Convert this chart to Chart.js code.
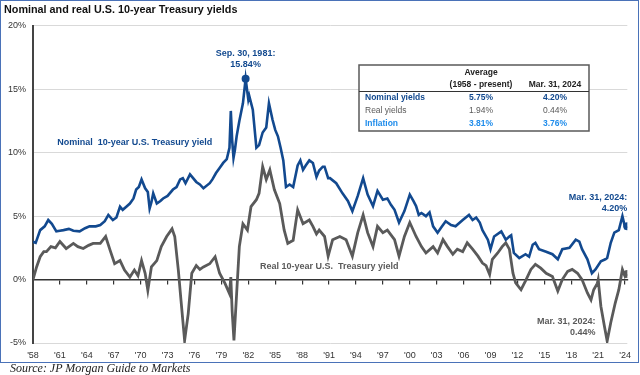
<!DOCTYPE html>
<html>
<head>
<meta charset="utf-8">
<script src="https://cdn.jsdelivr.net/npm/chart.js@4.4.1/dist/chart.umd.min.js"></script>
<style>
body { margin: 0; background: #fff; }
#frame { position: absolute; left: 0; top: 0; width: 637px; height: 361px; border: 1px solid #4a72b8; }
#source { position: absolute; left: 10px; top: 361px; font: italic 12px 'Liberation Serif', 'Times New Roman', serif; color: #222; }
</style>
</head>
<body>
<div id="frame"><canvas id="chartYields" width="637" height="361"></canvas></div>
<div id="source">Source: JP Morgan Guide to Markets</div>
<script>
// nominal 10-year yield (year, %)
var nominalYears = [1958.0, 1958.3, 1958.8, 1959.3, 1959.7, 1960.1, 1960.6, 1961.0, 1961.4, 1962.0, 1962.5, 1963.2, 1963.8, 1964.3, 1965.0, 1965.5, 1966.0, 1966.4, 1966.9, 1967.3, 1967.7, 1968.0, 1968.4, 1968.8, 1969.2, 1969.5, 1969.8, 1970.1, 1970.5, 1970.8, 1971.0, 1971.2, 1971.4, 1971.8, 1972.2, 1972.5, 1973.0, 1973.6, 1974.0, 1974.4, 1974.7, 1975.0, 1975.5, 1976.2, 1976.6, 1977.0, 1977.7, 1978.0, 1978.4, 1978.8, 1979.2, 1979.6, 1979.9, 1980.05, 1980.2, 1980.35, 1980.5, 1980.7, 1981.0, 1981.4, 1981.7, 1982.0, 1982.1, 1982.5, 1982.9, 1983.2, 1983.6, 1984.0, 1984.3, 1984.7, 1985.0, 1985.3, 1985.6, 1985.9, 1986.2, 1986.6, 1987.0, 1987.5, 1987.8, 1988.1, 1988.4, 1988.8, 1989.2, 1989.6, 1989.9, 1990.3, 1990.5, 1990.9, 1991.1, 1991.8, 1992.5, 1993.1, 1993.6, 1994.2, 1994.8, 1995.3, 1995.9, 1996.4, 1997.0, 1997.5, 1997.9, 1998.3, 1998.8, 1999.4, 2000.0, 2000.4, 2000.7, 2001.0, 2001.3, 2001.8, 2002.2, 2002.6, 2003.1, 2003.5, 2004.0, 2004.6, 2005.1, 2005.9, 2006.6, 2007.0, 2007.4, 2007.8, 2008.1, 2008.7, 2009.0, 2009.4, 2010.2, 2010.7, 2011.1, 2011.3, 2011.6, 2012.2, 2012.9, 2013.3, 2013.7, 2014.0, 2014.4, 2015.2, 2015.9, 2016.5, 2017.0, 2017.8, 2018.5, 2018.9, 2019.2, 2019.8, 2020.3, 2020.7, 2021.3, 2021.8, 2022.0, 2022.4, 2022.8, 2023.3, 2023.7, 2024.0, 2024.25];
var nominalValues = [2.98, 2.9, 3.9, 4.2, 4.7, 4.4, 3.8, 3.85, 3.9, 4.0, 3.85, 3.8, 4.05, 4.2, 4.2, 4.3, 4.6, 5.1, 4.7, 4.9, 5.75, 5.5, 5.75, 6.0, 6.4, 7.1, 7.3, 7.9, 7.2, 6.9, 5.6, 6.1, 6.8, 6.0, 6.2, 6.4, 6.6, 7.1, 7.3, 7.9, 8.0, 7.6, 8.3, 7.7, 7.5, 7.2, 7.6, 7.9, 8.4, 8.8, 9.2, 9.5, 10.4, 13.3, 11.0, 9.6, 10.2, 11.3, 12.5, 13.9, 15.84, 14.2, 14.5, 13.4, 10.4, 10.6, 11.6, 12.0, 13.9, 12.6, 11.8, 11.3, 10.4, 9.4, 7.3, 7.5, 7.3, 9.0, 9.4, 8.65, 9.0, 9.4, 9.2, 8.1, 8.6, 8.9, 8.9, 8.0, 8.0, 7.6, 6.8, 6.2, 5.4, 6.6, 8.0, 6.7, 5.8, 7.0, 6.3, 6.4, 5.9, 5.5, 4.5, 5.4, 6.7, 6.2, 5.8, 5.1, 5.25, 5.0, 5.3, 4.2, 3.7, 4.1, 4.6, 4.3, 4.2, 4.7, 5.1, 4.7, 4.9, 4.5, 3.9, 3.15, 2.4, 3.4, 3.8, 3.15, 3.4, 3.5, 2.1, 1.7, 2.0, 1.8, 2.75, 2.9, 2.4, 2.2, 2.0, 1.6, 2.4, 2.5, 3.15, 3.0, 2.4, 1.6, 0.5, 0.8, 1.45, 1.6, 1.7, 2.9, 3.7, 3.9, 5.0, 4.1, 4.2];

// real 10-year yield (year, %)
var realYears = [1958.0, 1958.4, 1958.8, 1959.2, 1959.5, 1960.0, 1960.5, 1961.0, 1961.7, 1962.5, 1963.0, 1963.6, 1964.2, 1964.7, 1965.5, 1966.1, 1966.6, 1967.1, 1967.7, 1968.2, 1968.8, 1969.3, 1969.7, 1970.1, 1970.5, 1970.8, 1971.2, 1971.8, 1972.3, 1972.9, 1973.5, 1973.8, 1974.2, 1974.5, 1974.9, 1975.3, 1975.7, 1976.2, 1976.6, 1977.0, 1977.7, 1978.3, 1978.8, 1979.4, 1979.9, 1980.05, 1980.2, 1980.4, 1980.7, 1981.0, 1981.4, 1981.9, 1982.3, 1982.9, 1983.2, 1983.6, 1984.0, 1984.4, 1984.9, 1985.5, 1986.0, 1986.4, 1987.0, 1987.5, 1988.1, 1988.8, 1989.2, 1989.6, 1989.9, 1990.5, 1990.9, 1991.4, 1992.2, 1992.9, 1993.6, 1994.2, 1994.8, 1995.3, 1995.9, 1996.4, 1997.0, 1997.5, 1998.3, 1998.8, 1999.4, 2000.0, 2000.7, 2001.3, 2001.8, 2002.6, 2003.1, 2003.7, 2004.2, 2004.8, 2005.3, 2005.9, 2006.4, 2007.0, 2007.6, 2008.1, 2008.5, 2008.9, 2009.2, 2009.8, 2010.3, 2010.7, 2011.1, 2011.5, 2011.8, 2012.4, 2012.9, 2013.5, 2014.0, 2014.6, 2015.2, 2015.9, 2016.5, 2017.0, 2017.6, 2018.1, 2018.7, 2019.2, 2019.8, 2020.2, 2020.5, 2020.9, 2021.0, 2021.3, 2021.7, 2022.0, 2022.4, 2022.9, 2023.3, 2023.7, 2024.0, 2024.25];
var realValues = [0.0, 1.0, 1.8, 2.2, 2.2, 2.6, 2.5, 3.0, 2.45, 2.85, 2.6, 2.45, 2.7, 2.85, 2.85, 3.4, 2.3, 1.25, 1.5, 0.75, 0.2, 0.75, 0.3, 1.5, 0.5, -0.85, 1.0, 1.5, 2.6, 3.4, 4.0, 3.4, 0.75, -1.65, -4.8, -2.7, 0.5, 1.1, 0.8, 1.0, 1.25, 1.8, 0.5, -0.3, -1.1, 0.2, -2.5, -4.8, -1.1, 2.6, 4.4, 3.9, 5.75, 6.3, 6.8, 8.9, 7.9, 8.65, 7.1, 6.0, 3.9, 2.85, 3.1, 5.5, 4.4, 4.7, 4.2, 3.6, 3.9, 3.4, 1.85, 3.15, 3.4, 3.15, 1.85, 3.7, 5.1, 3.7, 2.6, 4.2, 3.7, 3.9, 3.15, 1.85, 3.4, 4.5, 3.4, 2.6, 2.1, 2.6, 2.1, 3.15, 2.6, 2.0, 2.4, 2.2, 2.9, 2.4, 1.85, 1.3, 1.1, 0.4, 1.6, 2.1, 2.6, 2.9, 2.4, 0.5, -0.25, -0.8, -0.1, 0.8, 1.2, 0.9, 0.5, 0.25, -0.9, 0.0, 0.65, 0.8, 0.5, 0.0, -1.05, -1.6, -0.8, -0.3, 0.0, -2.1, -3.7, -4.85, -3.4, -1.85, -0.8, 0.8, 0.25, 0.44];

var tickYears = [1958, 1961, 1964, 1967, 1970, 1973, 1976, 1979, 1982, 1985, 1988, 1991, 1994, 1997, 2000, 2003, 2006, 2009, 2012, 2015, 2018, 2021, 2024];
var tickLabels = ["'58", "'61", "'64", "'67", "'70", "'73", "'76", "'79", "'82", "'85", "'88", "'91", "'94", "'97", "'00", "'03", "'06", "'09", "'12", "'15", "'18", "'21", "'24"];

var tableRowNames = ['Nominal yields', 'Real yields', 'Inflation'];
var tableAverage = ['5.75%', '1.94%', '3.81%'];
var tableLatest = ['4.20%', '0.44%', '3.76%'];

var blue = '#12498f';
var gray = '#5a5a5a';
var lightBlue = '#1f8ceb';
var fontFamily = 'Arial, "Liberation Sans", sans-serif';

function toPoints(xs, ys) {
    var pts = [];
    for (var i = 0; i < xs.length; i++) pts.push({ x: xs[i], y: ys[i] });
    return pts;
}

var peakIndex = nominalValues.indexOf(Math.max.apply(null, nominalValues));

// text labels and the small summary table
var yieldLabels = {
    id: 'yieldLabels',
    afterDraw: function(chart) {
        var c = chart.ctx, xs = chart.scales.x, ys = chart.scales.y;
        c.save();
        c.textBaseline = 'middle';
        c.font = 'bold 9px ' + fontFamily;

        // peak label
        var px = xs.getPixelForValue(nominalYears[peakIndex]);
        var py = ys.getPixelForValue(nominalValues[peakIndex]);
        c.fillStyle = blue;
        c.textAlign = 'center';
        c.fillText('Sep. 30, 1981:', px, py - 25);
        c.fillText('15.84%', px, py - 14);

        // series names
        c.textAlign = 'left';
        c.fillText('Nominal  10-year U.S. Treasury yield', xs.getPixelForValue(1960.7), ys.getPixelForValue(10.8));
        c.fillStyle = gray;
        c.fillText('Real 10-year U.S.  Treasury yield', xs.getPixelForValue(1983.3), ys.getPixelForValue(1.0));

        // latest values
        c.textAlign = 'right';
        c.fillStyle = blue;
        c.fillText('Mar. 31, 2024:', xs.getPixelForValue(2024.25), ys.getPixelForValue(6.5));
        c.fillText('4.20%', xs.getPixelForValue(2024.25), ys.getPixelForValue(5.6));
        c.fillStyle = gray;
        c.fillText('Mar. 31, 2024:', xs.getPixelForValue(2020.7), ys.getPixelForValue(-3.3));
        c.fillText('0.44%', xs.getPixelForValue(2020.7), ys.getPixelForValue(-4.2));

        // table
        var tx = 358, ty = 64, tw = 230, th = 66;
        var col1 = 480, col2 = 554;
        c.fillStyle = '#fff';
        c.fillRect(tx, ty, tw, th);
        c.strokeStyle = '#595959';
        c.lineWidth = 1.5;
        c.strokeRect(tx, ty, tw, th);
        c.lineWidth = 1;
        c.strokeStyle = '#333';
        c.beginPath();
        c.moveTo(tx, ty + 26.5);
        c.lineTo(tx + tw, ty + 26.5);
        c.stroke();

        c.font = 'bold 8.5px ' + fontFamily;
        c.fillStyle = '#222';
        c.textAlign = 'center';
        c.fillText('Average', col1, ty + 8);
        c.fillText('(1958 - present)', col1, ty + 20);
        c.fillText('Mar. 31, 2024', col2, ty + 20);

        var rowColors = [blue, gray, lightBlue];
        var rowBold = [true, false, true];
        for (var i = 0; i < tableRowNames.length; i++) {
            var ry = ty + 33 + i * 13;
            c.fillStyle = rowColors[i];
            c.font = (rowBold[i] ? 'bold ' : '') + '8.5px ' + fontFamily;
            c.textAlign = 'left';
            c.fillText(tableRowNames[i], tx + 6, ry);
            c.textAlign = 'center';
            c.fillText(tableAverage[i], col1, ry);
            c.fillText(tableLatest[i], col2, ry);
        }
        c.restore();
    }
};

var ctx = document.getElementById('chartYields');
new Chart(ctx, {
    type: 'line',
    data: {
        datasets: [{
            label: 'Nominal 10-year U.S. Treasury yield',
            data: toPoints(nominalYears, nominalValues),
            borderColor: blue,
            backgroundColor: blue,
            borderWidth: 2.6,
            tension: 0,
            pointRadius: function(c) { return (c.dataIndex === peakIndex || c.dataIndex === nominalValues.length - 1) ? 4 : 0; },
            pointBorderWidth: 0
        }, {
            label: 'Real 10-year U.S. Treasury yield',
            data: toPoints(realYears, realValues),
            borderColor: gray,
            backgroundColor: gray,
            borderWidth: 2.8,
            tension: 0,
            pointRadius: function(c) { return c.dataIndex === realValues.length - 1 ? 4 : 0; },
            pointBorderWidth: 0
        }]
    },
    options: {
        responsive: false,
        animation: false,
        layout: { padding: { left: 3, right: 10, top: 0, bottom: 0 } },
        plugins: {
            legend: { display: false },
            tooltip: { enabled: false },
            title: {
                display: true,
                text: 'Nominal and real U.S. 10-year Treasury yields',
                align: 'start',
                color: '#111',
                font: { size: 10.8, weight: 'bold', family: fontFamily },
                padding: { top: 3, bottom: 9 }
            }
        },
        scales: {
            x: {
                type: 'linear',
                min: 1958,
                max: 2024.25,
                afterBuildTicks: function(s) { s.ticks = tickYears.map(function(v) { return { value: v }; }); },
                afterFit: function(s) { s.height = 19; },
                grid: { display: false, drawTicks: false },
                border: { display: false },
                ticks: {
                    autoSkip: false,
                    maxRotation: 0,
                    padding: 7,
                    color: '#333',
                    font: { size: 9, family: fontFamily },
                    callback: function(v, i) { return tickLabels[i]; }
                }
            },
            // zero line with small tick marks
            x2: {
                type: 'linear',
                position: { y: 0 },
                min: 1958,
                max: 2024.25,
                afterBuildTicks: function(s) { s.ticks = tickYears.map(function(v) { return { value: v }; }); },
                grid: { drawOnChartArea: false, drawTicks: true, tickLength: 4, color: '#333', lineWidth: 1.2 },
                border: { display: true, color: '#333', width: 1.5 },
                ticks: { display: false }
            },
            y: {
                min: -5,
                max: 20,
                afterFit: function(s) { s.width = 29; },
                grid: { color: '#d9d9d9', drawTicks: false },
                border: { color: '#444', width: 2 },
                ticks: {
                    stepSize: 5,
                    padding: 7,
                    color: '#333',
                    font: { size: 9, family: fontFamily },
                    callback: function(v) { return v + '%'; }
                }
            }
        }
    },
    plugins: [yieldLabels]
});
</script>
</body>
</html>
